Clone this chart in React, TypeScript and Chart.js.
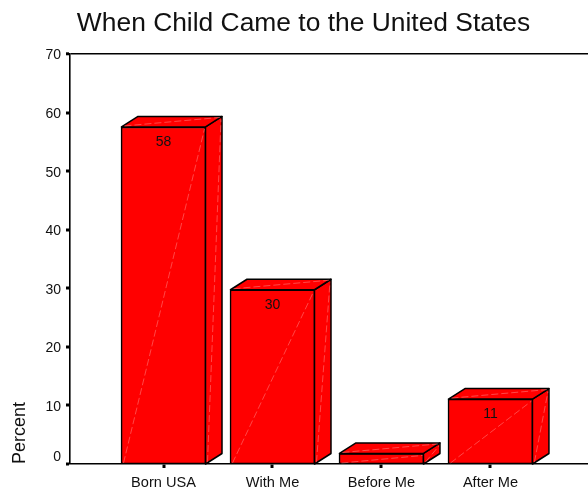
import React, { useEffect, useRef } from "react";
import { Chart, registerables } from "chart.js";

Chart.register(...registerables);

const TITLE = "When Child Came to the United States";
const categories = ["Born USA", "With Me", "Before Me", "After Me"];
const percentValues = [57.55, 29.75, 1.8, 11.08];
const valueLabels = ["58", "30", "", "11"];
const yTicksMax = 70;

const FONT = "'Liberation Sans', Arial, sans-serif";
const RED = "#ff0000";
const INK = "#111";
const DX = 16.5;
const DY = 10.5;

function face(ctx: CanvasRenderingContext2D, pts: number[][]) {
  ctx.beginPath();
  pts.forEach((p, i) => (i ? ctx.lineTo(p[0], p[1]) : ctx.moveTo(p[0], p[1])));
  ctx.closePath();
  ctx.fillStyle = RED;
  ctx.fill();
  ctx.lineWidth = 1.5;
  ctx.strokeStyle = "#000";
  ctx.lineJoin = "round";
  ctx.stroke();
}

function sheen(ctx: CanvasRenderingContext2D, a: number[], b: number[]) {
  ctx.save();
  ctx.beginPath();
  ctx.moveTo(a[0], a[1]);
  ctx.lineTo(b[0], b[1]);
  ctx.setLineDash([7, 3]);
  ctx.lineWidth = 0.6;
  ctx.strokeStyle = "rgba(255,170,170,0.7)";
  ctx.stroke();
  ctx.restore();
}

const box3d = {
  id: "box3d",
  afterDatasetsDraw(chart: any) {
    const ctx: CanvasRenderingContext2D = chart.ctx;
    const meta = chart.getDatasetMeta(0);
    ctx.save();
    meta.data.forEach((bar: any, i: number) => {
      const { x, y, base, width } = bar.getProps(["x", "y", "base", "width"], true);
      const l = x - width / 2 + 0.5;
      const r = x + width / 2 - 0.5;
      face(ctx, [[r, y], [r + DX, y - DY], [r + DX, base - DY], [r, base]]);
      face(ctx, [[l, y], [l + DX, y - DY], [r + DX, y - DY], [r, y]]);
      sheen(ctx, [l + 2, base - 1], [r - 1, y + 2]);
      sheen(ctx, [l + 3, y - 1], [r + DX - 2, y - DY + 1]);
      sheen(ctx, [r + 2, base - 2], [r + DX - 1, y - DY + 3]);
      if (valueLabels[i]) {
        ctx.fillStyle = INK;
        ctx.font = `14px ${FONT}`;
        ctx.textAlign = "center";
        ctx.textBaseline = "middle";
        ctx.fillText(valueLabels[i], x, y + 15.5);
      }
    });
    ctx.fillStyle = INK;
    ctx.font = `26.4px ${FONT}`;
    ctx.textAlign = "center";
    ctx.textBaseline = "alphabetic";
    ctx.fillText(TITLE, 303.5, 31);
    ctx.restore();
  },
};

export default function App() {
  const ref = useRef<HTMLCanvasElement>(null);
  useEffect(() => {
    const chart = new Chart(ref.current!, {
      type: "bar",
      data: {
        datasets: [
          {
            data: percentValues.map((v, i) => ({ x: i, y: v })),
            backgroundColor: RED,
            borderColor: "#000",
            borderWidth: 1.6,
            borderSkipped: false,
            barThickness: 85,
          } as any,
        ],
      },
      plugins: [box3d],
      options: {
        responsive: false,
        animation: false,
        devicePixelRatio: 1,
        layout: { padding: { top: 54, right: 0, left: 0, bottom: 0 } },
        plugins: { legend: { display: false }, tooltip: { enabled: false }, title: { display: false } },
        scales: {
          x: {
            type: "linear",
            offset: false,
            min: -0.858,
            max: 3.895,
            afterBuildTicks: (s: any) => {
              s.ticks = categories.map((_, i) => ({ value: i }));
            },
            afterFit: (s: any) => {
              s.height = 24;
            },
            ticks: {
              autoSkip: false,
              maxRotation: 0,
              callback: (v: any) => categories[v] ?? "",
              color: INK,
              font: { family: FONT, size: 14.6 },
              padding: 6,
            },
            grid: { offset: false, lineWidth: 0, tickLength: 4, tickWidth: 3, tickColor: "#000" },
            border: { display: true, color: "#000", width: 1.6 },
          },
          y: {
            min: 0,
            max: yTicksMax,
            afterFit: (s: any) => {
              s.width = 70;
            },
            ticks: {
              stepSize: 10,
              labelOffset: 1.5,
              padding: 5,
              color: INK,
              font: { family: FONT, size: 14 },
              callback: (v: any) => (v === 0 ? ["0", ""] : String(v)),
            },
            title: {
              display: true,
              text: "Percent",
              align: "start",
              color: INK,
              font: { family: FONT, size: 18 },
              padding: { top: 9, bottom: 0 },
            },
            grid: {
              lineWidth: (c: any) => (c.tick && c.tick.value === yTicksMax ? 1.6 : 0),
              color: "#000",
              tickLength: 4,
              tickWidth: 3,
              tickColor: "#000",
            },
            border: { display: true, color: "#000", width: 1.6 },
          },
        },
      } as any,
    });
    return () => chart.destroy();
  }, []);
  return (
    <canvas
      ref={ref}
      width={588}
      height={488}
      style={{ position: "absolute", left: 0, top: 0, display: "block" }}
    />
  );
}
